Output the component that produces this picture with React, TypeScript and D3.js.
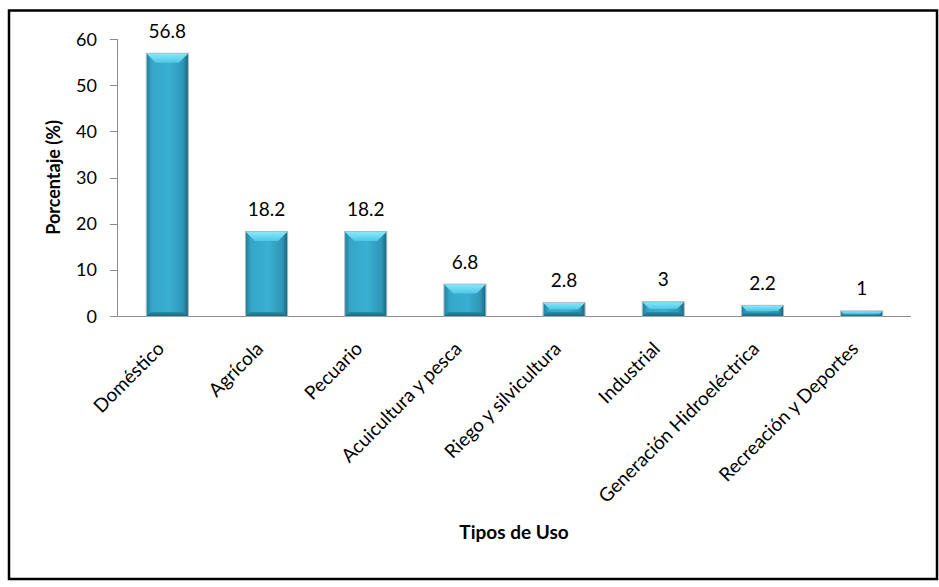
import React from "react";
import * as d3 from "d3";

const categories = [
  "Doméstico",
  "Agrícola",
  "Pecuario",
  "Acuicultura y pesca",
  "Riego y silvicultura",
  "Industrial",
  "Generación Hidroeléctrica",
  "Recreación y Deportes",
];
const values = [56.8, 18.2, 18.2, 6.8, 2.8, 3, 2.2, 1];
const valueLabels = ["56.8", "18.2", "18.2", "6.8", "2.8", "3", "2.2", "1"];
const yTicks = [0, 10, 20, 30, 40, 50, 60];

const W = 939;
const H = 587;
const FONT = "Lato, 'Open Sans', sans-serif";

export default function App() {
  const left = 118;
  const right = 911;
  const top = 39;
  const bottom = 316;

  const x = d3.scaleBand<string>().domain(categories).range([left, right]).paddingInner(0.585).paddingOuter(0.29);
  const y = d3.scaleLinear().domain([0, 60]).range([bottom, top]);
  const bw = x.bandwidth();

  return (
    <div style={{ position: "absolute", left: 0, top: 0 }}>
      <svg width={W} height={H} style={{ display: "block" }}>
        <defs>
          <linearGradient id="body" x1="0" x2="1" y1="0" y2="0">
            <stop offset="0" stopColor="#237f9b" />
            <stop offset="0.12" stopColor="#35a6c8" />
            <stop offset="0.55" stopColor="#3aafd2" />
            <stop offset="0.88" stopColor="#2e96b6" />
            <stop offset="1" stopColor="#1b6880" />
          </linearGradient>
          <linearGradient id="topf" x1="0" x2="0" y1="0" y2="1">
            <stop offset="0" stopColor="#86e8f8" />
            <stop offset="1" stopColor="#4ec7e6" />
          </linearGradient>
          <linearGradient id="botf" x1="0" x2="0" y1="0" y2="1">
            <stop offset="0" stopColor="#2a8aa8" />
            <stop offset="1" stopColor="#1d6a82" />
          </linearGradient>
        </defs>
        <rect x={0} y={0} width={W} height={H} fill="#fff" />
        <rect x={9} y={10.5} width={928} height={568.5} fill="#fff" stroke="#000" strokeWidth={2.5} />

        {/* axes */}
        <line x1={left - 0.5} x2={left - 0.5} y1={top} y2={bottom} stroke="#8c8c8c" strokeWidth={1} />
        <line x1={left - 0.5} x2={right} y1={bottom + 0.5} y2={bottom + 0.5} stroke="#8c8c8c" strokeWidth={1} />
        {yTicks.map((t) => (
          <g key={t}>
            <line x1={left - 8} x2={left - 0.5} y1={Math.round(y(t)) + 0.5} y2={Math.round(y(t)) + 0.5} stroke="#8c8c8c" />
            <text x={97} y={y(t) + 6.5} textAnchor="end" fontFamily={FONT} fontSize={18} fill="#000">
              {t}
            </text>
          </g>
        ))}

        {/* bars */}
        {categories.map((c, i) => {
          const x0 = x(c)!;
          const y0 = y(values[i]);
          const h = bottom - y0;
          const b = Math.min(9, h / 2);
          const bb = Math.min(4, h / 3);
          const x1 = x0 + bw;
          return (
            <g key={c}>
              <rect x={x0 - 0.5} y={y0 - 0.5} width={bw + 1} height={h + 0.5} fill="none" stroke="#a9bcc2" strokeWidth={1} />
              <rect x={x0} y={y0} width={bw} height={h} fill="url(#body)" />
              <polygon points={`${x0},${y0} ${x1},${y0} ${x1 - b},${y0 + b} ${x0 + b},${y0 + b}`} fill="url(#topf)" />
              <polygon points={`${x0},${bottom} ${x1},${bottom} ${x1 - bb},${bottom - bb} ${x0 + bb},${bottom - bb}`} fill="url(#botf)" />
              <text x={x0 + bw / 2} y={y0 - 16} textAnchor="middle" fontFamily={FONT} fontSize={19} fill="#000">
                {valueLabels[i]}
              </text>
              <text
                transform={`translate(${x0 + bw / 2 - 2},${bottom + 34}) rotate(-45)`}
                textAnchor="end"
                fontFamily={FONT}
                fontSize={19}
                fill="#000"
              >
                {c}
              </text>
            </g>
          );
        })}

        <text transform={`translate(60,${(top + bottom) / 2}) rotate(-90)`} textAnchor="middle" fontFamily={FONT} fontWeight="bold" fontSize={18} fill="#000">
          Porcentaje (%)
        </text>
        <text x={514} y={539} textAnchor="middle" fontFamily={FONT} fontWeight="bold" fontSize={19} fill="#000">
          Tipos de Uso
        </text>
      </svg>
    </div>
  );
}
